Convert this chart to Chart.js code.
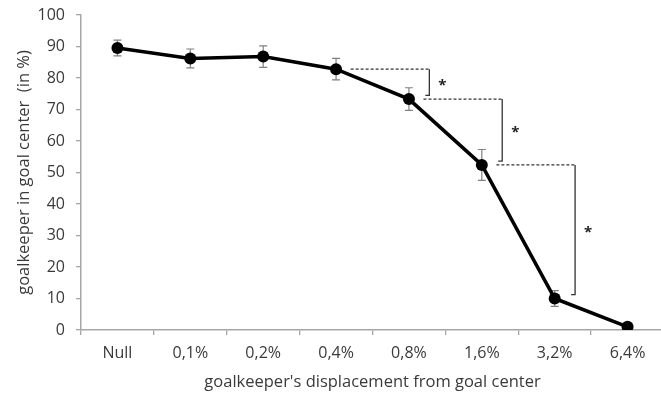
<!DOCTYPE html>
<html>
<head>
<meta charset="utf-8">
<script src="https://cdn.jsdelivr.net/npm/chart.js@4/dist/chart.umd.min.js"></script>
<style>
  html, body { margin: 0; padding: 0; background: #fff; overflow: hidden; }
  #wrap { width: 661px; height: 395px; overflow: hidden; }
</style>
</head>
<body>
<div id="wrap"><canvas id="chart" width="670" height="395"></canvas></div>
<script>
// ─── Data ─────────────────────────────────────────────
const categories = ['Null', '0,1%', '0,2%', '0,4%', '0,8%', '1,6%', '3,2%', '6,4%']
const values     = [89.5, 86.2, 86.8, 82.8, 73.3, 52.4, 10, 1]
const errors     = [2.5, 3, 3.4, 3.4, 3.6, 4.9, 2.5, 0.5]
const sigPairs   = [[3, 4], [4, 5], [5, 6]]
const sigMark    = '*'

const FONT     = "'Open Sans', sans-serif"
const TEXT     = '#3a3a3a'
const AXIS     = '#a6a6a6'

// ─── Error bars + significance brackets ───────────────
const extras = {
  id: 'extras',
  beforeDatasetsDraw(chart) {
    const { ctx, scales: { x, y } } = chart
    ctx.save()
    ctx.strokeStyle = '#808080'
    ctx.lineWidth = 1.2
    values.forEach((v, i) => {
      const px = x.getPixelForValue(i)
      const top = y.getPixelForValue(v + errors[i])
      const bot = y.getPixelForValue(v - errors[i])
      ctx.beginPath()
      ctx.moveTo(px, top); ctx.lineTo(px, bot)
      ctx.moveTo(px - 4, top); ctx.lineTo(px + 4, top)
      ctx.moveTo(px - 4, bot); ctx.lineTo(px + 4, bot)
      ctx.stroke()
    })
    ctx.restore()
  },
  afterDatasetsDraw(chart) {
    const { ctx, scales: { x, y } } = chart
    ctx.save()
    ctx.strokeStyle = '#333'
    ctx.lineWidth = 1.3
    sigPairs.forEach(([a, b]) => {
      const x0 = x.getPixelForValue(a + 0.2)
      const x1 = x.getPixelForValue(a + 1.28)
      const yA = y.getPixelForValue(values[a])
      const yB = y.getPixelForValue(values[b] + 1.2)
      ctx.setLineDash([3, 2])
      ctx.beginPath()
      ctx.moveTo(x0, yA); ctx.lineTo(x1, yA)
      ctx.stroke()
      ctx.setLineDash([])
      ctx.beginPath()
      ctx.moveTo(x1, yA); ctx.lineTo(x1, yB); ctx.lineTo(x1 - 4, yB)
      ctx.stroke()
      ctx.fillStyle = '#222'
      ctx.font = `bold 15px ${FONT}`
      ctx.textAlign = 'center'
      ctx.textBaseline = 'middle'
      ctx.fillText(sigMark, x1 + 13, (yA + yB) / 2 + 3)
    })
    ctx.restore()
  }
}

// ─── Chart ────────────────────────────────────────────
new Chart(document.getElementById('chart'), {
  type: 'line',
  data: {
    labels: categories,
    datasets: [{
      data: values,
      borderColor: '#000',
      backgroundColor: '#000',
      borderWidth: 3.5,
      pointRadius: 6,
      pointBackgroundColor: '#000',
      pointBorderWidth: 0,
      tension: 0
    }]
  },
  options: {
    responsive: false,
    animation: false,
    layout: { padding: { top: 15, right: 0, left: 0, bottom: 0 } },
    plugins: { legend: { display: false }, tooltip: { enabled: false } },
    scales: {
      x: {
        offset: true,
        grid: { offset: true, drawOnChartArea: false, color: AXIS, tickLength: 5, lineWidth: 1.3 },
        border: { color: AXIS, width: 1.5 },
        ticks: { color: TEXT, font: { family: FONT, size: 16 }, padding: 9, maxRotation: 0 },
        title: {
          display: true,
          text: "goalkeeper's displacement from goal center",
          color: TEXT,
          font: { family: FONT, size: 16.5 },
          padding: { top: 4, bottom: 3 }
        },
        afterFit: s => { s.height = 65 }
      },
      y: {
        min: 0,
        max: 100,
        ticks: { stepSize: 10, color: TEXT, font: { family: FONT, size: 16 }, padding: 11 },
        grid: { drawOnChartArea: false, color: AXIS, tickLength: 5, lineWidth: 1.3 },
        border: { color: AXIS, width: 1.5 },
        title: {
          display: true,
          text: 'goalkeeper in goal center  (in %)',
          color: TEXT,
          font: { family: FONT, size: 16.5 },
          padding: { top: 14, bottom: 4 }
        },
        afterFit: s => { s.width = 81; s.paddingTop = 0; s.paddingBottom = 0 }
      }
    }
  },
  plugins: [extras]
})
</script>
</body>
</html>
